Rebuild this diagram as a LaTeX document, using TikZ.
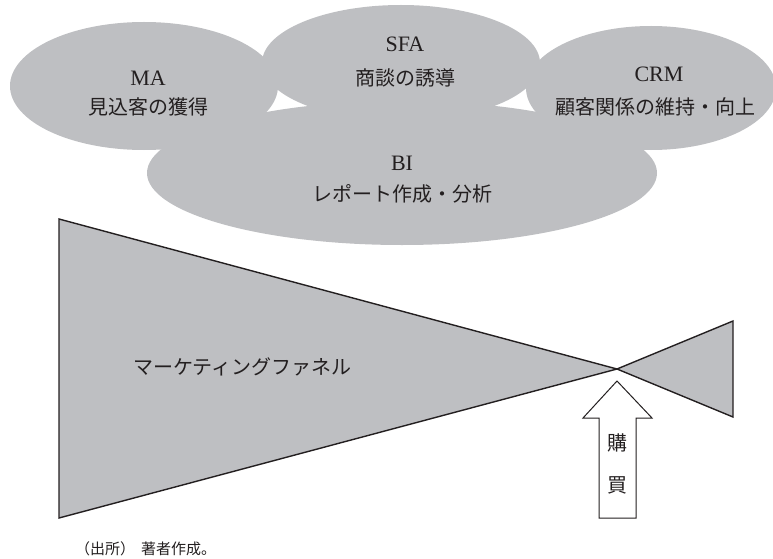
\documentclass[tikz,border=0pt]{standalone}
\usepackage{fontspec}
\setmainfont{Liberation Serif}
\newfontfamily\jp{Noto Sans CJK JP}
\usetikzlibrary{shapes.geometric}
\definecolor{bubble}{RGB}{190,191,194}
\definecolor{ink}{RGB}{35,31,32}
\tikzset{
  bub/.style={ellipse, fill=bubble, draw=none, inner sep=0pt},
  lat/.style={font=\fontsize{22}{24}\selectfont, text=ink, inner sep=0pt, anchor=base},
  jpt/.style={font=\jp\fontsize{20}{24}\selectfont, text=ink, inner sep=0pt, anchor=base},
  funnel/.style={fill=bubble, draw=ink, line width=1.4pt, line join=miter},
  buyarrow/.style={fill=white, draw=ink, line width=1pt}
}
\begin{document}
\begin{tikzpicture}[x=1pt,y=-1pt]
\useasboundingbox (0,0) rectangle (773,559);
% bubbles
\node[bub, minimum width=268pt, minimum height=128pt] (ma) at (144,86) {};
\node[bub, minimum width=278pt, minimum height=116pt] (sfa) at (401,63) {};
\node[bub, minimum width=250pt, minimum height=124pt] (crm) at (651,88) {};
\node[bub, minimum width=510pt, minimum height=144pt] (bi) at (402,173) {};
% bubble texts
\node[lat] (maT) at (148,86) {MA};
\node[jpt] (maJ) at (148,115) {見込客の獲得};
\node[lat] (sfaT) at (405,52) {SFA};
\node[jpt] (sfaJ) at (405,86) {商談の誘導};
\node[lat] (crmT) at (659,82) {CRM};
\node[jpt] (crmJ) at (655,115) {顧客関係の維持・向上};
\node[lat] (biT) at (402,170) {BI};
\node[jpt] (biJ) at (402,201) {レポート作成・分析};
% funnel
\coordinate (apex) at (617,369);
\draw[funnel] (59,219) -- (apex) -- (59,518) -- cycle;
\draw[funnel] (apex) -- (733,321) -- (733,417) -- cycle;
\node[jpt, anchor=base west] (fun) at (133,374) {マーケティングファネル};
% purchase arrow
\draw[buyarrow] (617,381) -- (652,418) -- (636,418) -- (636,518) -- (599,518) -- (599,418) -- (583,418) -- cycle;
\node[jpt] (k1) at (617,450) {購};
\node[jpt] (k2) at (617,492) {買};
% source
\node[font=\jp\fontsize{15}{18}\selectfont, text=ink, inner sep=0pt, anchor=base west] (src) at (75,554) {（出所）\hspace{6pt}著者作成。};
\end{tikzpicture}
\end{document}
